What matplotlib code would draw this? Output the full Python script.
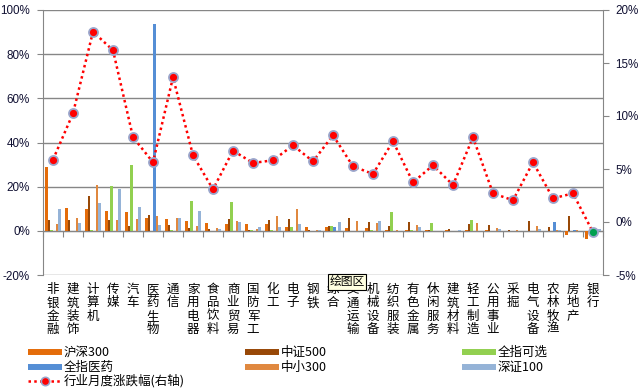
import matplotlib
matplotlib.use("Agg")
import matplotlib.pyplot as plt
import matplotlib.transforms as mtransforms
from matplotlib.lines import Line2D
import numpy as np

plt.rcParams['font.family'] = ['Liberation Sans', 'Noto Sans CJK SC', 'DejaVu Sans']

categories = ["非银金融", "建筑装饰", "计算机", "传媒", "汽车", "医药生物", "通信", "家用电器",
              "食品饮料", "商业贸易", "国防军工", "化工", "电子", "钢铁", "综合", "交通运输",
              "机械设备", "纺织服装", "有色金属", "休闲服务", "建筑材料", "轻工制造", "公用事业",
              "采掘", "电气设备", "农林牧渔", "房地产", "银行"]

hs300 = [29, 10.4, 10, 9, 8.6, 5.9, 5.4, 4.5, 3.6, 3.2, 3.2, 3.2, 1.8, 1.8, 1.8, 1.4, 1.4,
         0.5, 0.5, 0.5, 0.5, 0.2, 0.2, 0.1, 0.1, 0.1, -1.8, -3.6]
zz500 = [4.7, 4.7, 15.8, 4.7, 2.3, 7.2, 2.7, 1.4, 0.9, 5.4, 0.5, 5.0, 5.4, 0.5, 2.3, 5.9, 4.1,
         2.3, 4.1, 0.5, 0.9, 3.2, 2.7, 0.5, 4.5, 1.8, 6.8, 0.1]
qzkx = [0.5, 0, 0.5, 20.4, 29.9, 0, 0.5, 13.6, 0, 13.1, 0.5, 0.5, 1.8, 0, 2.3, 0, 0.5, 8.6,
        0.5, 3.6, 0, 5.0, 0, 0, 0, 0, 0, 0]
qzyy = [0, 0, 0, 0, 0, 93.7, 0, 0, 0, 0, 0, 0, 0, 0, 1.8, 0, 0, 0, 0, 0, 0, 0, 0, 0, 0, 4.1,
        0.5, 0]
zx300 = [3.2, 5.9, 20.8, 5.0, 5.4, 6.8, 5.9, 2.3, 1.4, 4.5, 0.9, 6.8, 10.0, 0.5, 0, 4.5, 3.6,
         0.5, 2.7, 0, 0, 3.6, 1.4, 0.5, 2.3, 0.5, 0.5, 0.5]
sz100 = [10.0, 3.6, 12.7, 19.0, 10.9, 2.7, 5.9, 9.0, 0.9, 4.1, 1.8, 1.8, 3.2, 0.5, 4.1, 0, 4.5,
         0, 1.8, 0, 0.5, 0, 0.9, 0, 0.9, 0.5, 0, 0.9]
monthly = [5.88, 10.25, 17.95, 16.2, 8.0, 5.63, 13.65, 6.29, 3.08, 6.73, 5.57, 5.82, 7.23,
           5.72, 8.18, 5.25, 4.53, 7.61, 3.74, 5.35, 3.49, 7.99, 2.7, 2.05, 5.63, 2.23, 2.7,
           -0.97]

series_names = ["沪深300", "中证500", "全指可选", "全指医药", "中小300", "深证100"]
series_vals = [hs300, zz500, qzkx, qzyy, zx300, sz100]
colors = ["#E46C0A", "#984807", "#92D050", "#558ED5", "#E0883F", "#95B3D7"]
line_name = "行业月度涨跌幅(右轴)"

W, H = 638, 389
fig = plt.figure(figsize=(W / 100, H / 100), dpi=100)
ax = fig.add_axes([43 / W, 1 - 275 / H, 560 / W, 265 / H])

n = len(categories)
x = np.arange(n)
bw = 0.8 / 6
for i, (vals, c) in enumerate(zip(series_vals, colors)):
    ax.bar(x + (i - 2.5) * bw, vals, width=bw, color=c, zorder=3, linewidth=0)

grid_c = "#868686"
ax.set_xlim(-0.5, n - 0.5)
ax.set_ylim(-20, 100)
ax.set_yticks(np.arange(-20, 101, 20))
ax.set_yticklabels([f"{v}%" for v in range(-20, 101, 20)])
ax.yaxis.grid(True, color=grid_c, linewidth=1.0, zorder=0)
ax.set_axisbelow(True)
ax.spines['top'].set_visible(False)
ax.spines['right'].set_visible(False)
ax.spines['left'].set_color(grid_c)
ax.spines['bottom'].set_position(('data', 0))
ax.spines['bottom'].set_color(grid_c)
ax.set_xticks(np.arange(-0.5, n, 1.0))
ax.set_xticklabels([])
ax.tick_params(axis='x', length=4, color=grid_c, direction='out')
ax.tick_params(axis='y', length=4, color=grid_c, pad=5.5, labelsize=8.4, labelcolor='#111133')

ax2 = ax.twinx()
ax2.set_ylim(-5, 20)
ax2.set_yticks(np.arange(-5, 21, 5))
ax2.set_yticklabels([f"{v}%" for v in range(-5, 21, 5)])
for s in ['top', 'left', 'bottom']:
    ax2.spines[s].set_visible(False)
ax2.spines['right'].set_color(grid_c)
ax2.tick_params(axis='y', length=4, color=grid_c, pad=5, labelsize=8.4, labelcolor='#111133')
ax2.plot(x, monthly, color="#FF0000", linestyle=(0, (1, 1.3)), linewidth=1.8, zorder=4)
ax2.plot(x[:-1], monthly[:-1], linestyle='none', marker='o', markersize=6.5,
         markerfacecolor="#FF0000", markeredgecolor="#9AA6CC", markeredgewidth=1.3, zorder=5)
ax2.plot(x[-1:], monthly[-1:], linestyle='none', marker='o', markersize=6.5,
         markerfacecolor="#00A050", markeredgecolor="#9AA6CC", markeredgewidth=1.3, zorder=5)

# vertical category labels
trans = mtransforms.blended_transform_factory(ax.transData, fig.transFigure)
for i, name in enumerate(categories):
    for j, ch in enumerate(name):
        fig.text(i, 1 - (289.5 + j * 13.33) / H, ch, transform=trans, ha='center',
                 va='center', fontsize=9, family=['Noto Sans CJK SC', 'DejaVu Sans'])

# tooltip artifact
fig.text(347 / W, 1 - 282 / H, "绘图区", ha='center', va='center', fontsize=8.5,
         family=['Noto Sans CJK SC', 'DejaVu Sans'], zorder=10,
         bbox=dict(boxstyle='square,pad=0.12', fc='#FFFFE1', ec='black', lw=0.8))

# legend
col_x = [28, 245, 462]
row_y = [352, 367, 381]
for k, (name, c) in enumerate(zip(series_names, colors)):
    r, col = divmod(k, 3)
    y = 1 - row_y[r] / H
    x0 = col_x[col]
    fig.add_artist(Line2D([x0 / W, (x0 + 34) / W], [y, y], color=c, linewidth=4.3,
                          solid_capstyle='butt'))
    fig.text((x0 + 36) / W, y, name, ha='left', va='center', fontsize=9,
             family=['Noto Sans CJK SC', 'DejaVu Sans'])
y = 1 - row_y[2] / H
fig.add_artist(Line2D([28 / W, 62 / W], [y, y], color="#FF0000", linestyle=(0, (1, 1.3)),
                      linewidth=1.8))
fig.add_artist(Line2D([45 / W], [y], marker='o', markersize=6, markerfacecolor="#FF0000",
                      markeredgecolor="#9AA6CC", markeredgewidth=1.2, linestyle='none'))
fig.text(64 / W, y, line_name, ha='left', va='center', fontsize=9,
         family=['Noto Sans CJK SC', 'DejaVu Sans'])

fig.savefig("out.png", dpi=100)
